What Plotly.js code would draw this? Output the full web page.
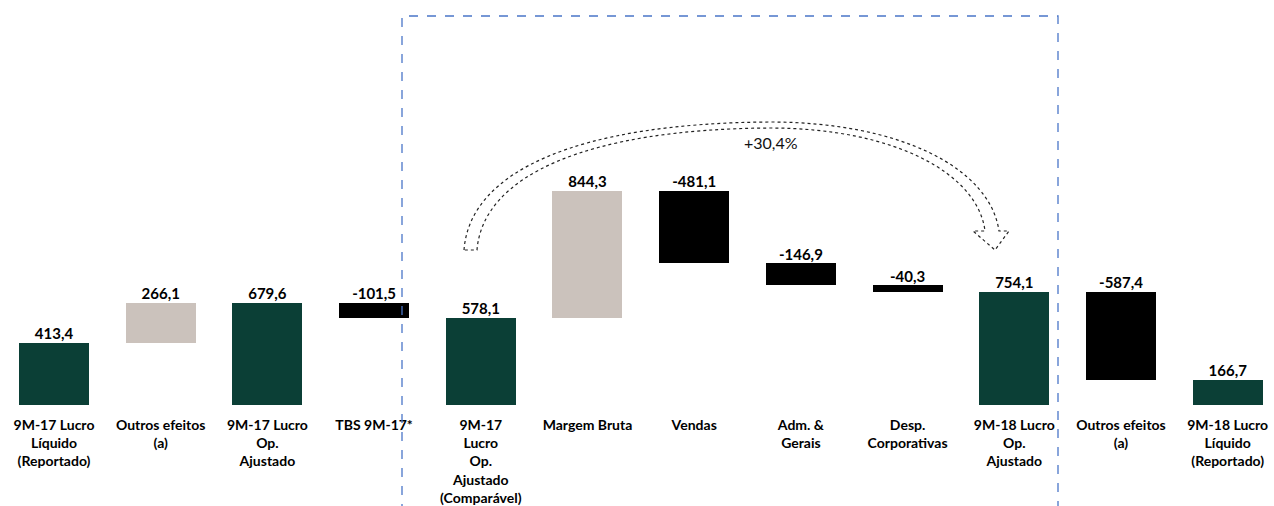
<!DOCTYPE html>
<html>
<head>
<meta charset="utf-8">
<script src="https://cdn.plot.ly/plotly-3.0.1.min.js"></script>
<style>html,body{margin:0;padding:0;background:#fff;}#chart{width:1274px;height:506px;}</style>
</head>
<body>
<div id="chart"></div>
<script>
// ---- data ----
const categories = [
  "9M-17 Lucro<br>Líquido<br>(Reportado)",
  "Outros efeitos<br>(a)",
  "9M-17 Lucro<br>Op.<br>Ajustado",
  "TBS 9M-17*",
  "9M-17<br>Lucro<br>Op.<br>Ajustado<br>(Comparável)",
  "Margem Bruta",
  "Vendas",
  "Adm. &<br>Gerais",
  "Desp.<br>Corporativas",
  "9M-18 Lucro<br>Op.<br>Ajustado",
  "Outros efeitos<br>(a)",
  "9M-18 Lucro<br>Líquido<br>(Reportado)"
];
const values = [413.4, 266.1, 679.6, -101.5, 578.1, 844.3, -481.1, -146.9, -40.3, 754.1, -587.4, 166.7];
const measures = ["total","relative","total","relative","total","relative","relative","relative","relative","total","relative","total"];
const valueLabels = ["413,4","266,1","679,6","-101,5","578,1","844,3","-481,1","-146,9","-40,3","754,1","-587,4","166,7"];
const growthLabel = "+30,4%";

// ---- styles ----
const GREEN = "#0b3f36", BEIGE = "#cbc2bc", BLACK = "#000000";
const W = 1274, H = 506, MT = 15, MB = 101;
const plotH = H - MT - MB;

const xs = categories.map((_, i) => i);
let run = 0;
const bases = [], heights = [], colors = [], tops = [];
values.forEach((v, i) => {
  if (measures[i] === "total") {
    bases.push(0); heights.push(v); run = v; colors.push(GREEN);
  } else {
    bases.push(run); heights.push(v); run += v; colors.push(v >= 0 ? BEIGE : BLACK);
  }
  tops.push(Math.max(bases[i], bases[i] + v));
});

const bars = {
  type: "bar", x: xs, y: heights, base: bases, width: 0.656,
  marker: {color: colors, line: {width: 0}}, hoverinfo: "skip", showlegend: false
};
const labels = {
  type: "scatter", mode: "text", x: xs, y: tops, text: valueLabels,
  textposition: "top center", cliponaxis: false,
  textfont: {family: "Lato, 'DejaVu Sans', sans-serif", size: 15, color: "#000", weight: "bold"},
  hoverinfo: "skip", showlegend: false
};

// pixel -> paper helpers for decorations
const px = x => x / W;
const py = y => (H - MB - y) / plotH;
const P = (x, y) => px(x).toFixed(5) + "," + py(y).toFixed(5);

const arrowPath =
  "M " + P(464,250) +
  " C " + P(470,170) + " " + P(580,123) + " " + P(770,122) +
  " C " + P(900,122) + " " + P(990,168) + " " + P(999,231) +
  " L " + P(1009,231) + " L " + P(995,250) + " L " + P(973,231) + " L " + P(985,231) +
  " C " + P(978,174) + " " + P(895,128) + " " + P(770,128) +
  " C " + P(588,129) + " " + P(483,175) + " " + P(477,250) + " Z";

const layout = {
  width: W, height: H,
  margin: {l: 0, r: 0, t: MT, b: MB, pad: 0},
  paper_bgcolor: "#fff", plot_bgcolor: "#fff",
  bargap: 0,
  xaxis: {
    range: [-0.506, 11.434], tickvals: xs, ticktext: categories,
    ticks: "", showgrid: false, zeroline: false, showline: false,
    ticklabelstandoff: 10,
    tickfont: {family: "Lato, 'DejaVu Sans', sans-serif", size: 14, color: "#000", weight: "bold"},
    fixedrange: true
  },
  yaxis: {range: [0, plotH / 0.1505], visible: false, fixedrange: true},
  shapes: [
    {type: "rect", xref: "paper", yref: "paper", x0: px(402), x1: px(1058), y0: py(520), y1: py(16),
     line: {color: "#4a76c8", width: 1.3, dash: "dash"}, fillcolor: "rgba(0,0,0,0)", layer: "above"},
    {type: "path", xref: "paper", yref: "paper", path: arrowPath,
     line: {color: "#222", width: 1.2, dash: "dot"}, fillcolor: "rgba(255,255,255,0)", layer: "above"}
  ],
  annotations: [
    {xref: "paper", yref: "paper", x: px(771), y: py(142), text: growthLabel, showarrow: false,
     xanchor: "center", yanchor: "middle",
     font: {family: "Lato, 'DejaVu Sans', sans-serif", size: 16, color: "#111"}}
  ]
};

Plotly.newPlot("chart", [bars, labels], layout, {displayModeBar: false, staticPlot: true});
</script>
</body>
</html>
